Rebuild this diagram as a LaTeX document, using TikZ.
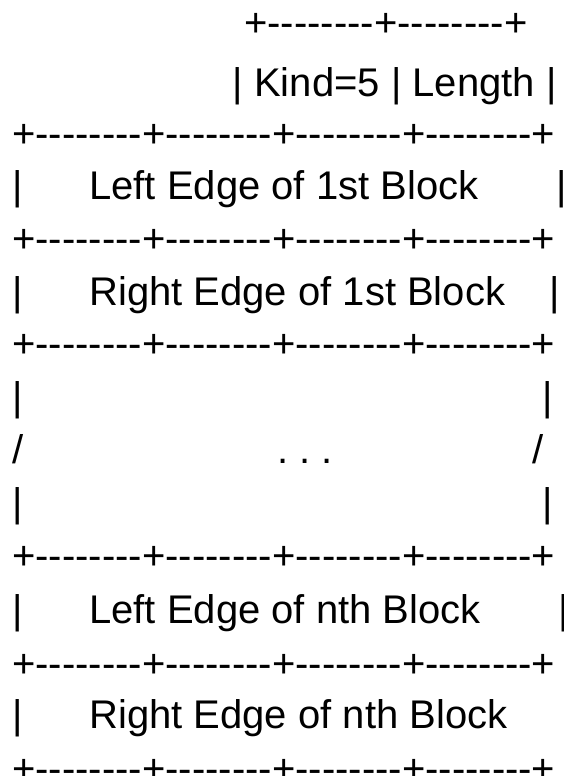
\documentclass[tikz,border=0pt]{standalone}
\usepackage{fontspec}
\newfontfamily\asciifont{Liberation Sans}
\newcommand{\pseg}{+--------}
\begin{document}
\begin{tikzpicture}[x=1pt,y=-1pt,
  txt/.style={anchor=base west,inner sep=0pt,outer sep=0pt,text=black,
    font=\asciifont\fontsize{40}{48}\selectfont}]
\fill[white] (0,0) rectangle (563,776);
\useasboundingbox (0,0) rectangle (563,776);
\clip (0,0) rectangle (563,776);
% line 1-2: header
\node[txt] (l1) at (244.3,36.5) {\pseg\pseg+};
\node[txt] (l2) at (232.8,96) {|~Kind=5~|~Length~|};
% line 3
\node[txt] (l3) at (12.3,147.4) {\pseg\pseg\pseg\pseg+};
\node[txt] (l4) at (12.3,199.5) {|~~~~~~Left Edge of 1st Block~~~~~~~|};
\node[txt] (l5) at (12.3,252.4) {\pseg\pseg\pseg\pseg+};
\node[txt] (l6) at (12.3,305) {|~~~~~~Right Edge of 1st Block~~~~|};
\node[txt] (l7) at (12.3,357.4) {\pseg\pseg\pseg\pseg+};
% gap rows
\node[txt] (l8a) at (12.3,410.5) {|};
\node[txt] (l8b) at (542.8,410.5) {|};
\node[txt] (l9a) at (12.3,463) {/};
\node[txt] (l9b) at (277.5,463) {.~.~.};
\node[txt] (l9c) at (532,463) {/};
\node[txt] (l10a) at (12.3,516.5) {|};
\node[txt] (l10b) at (542.8,516.5) {|};
\node[txt] (l11) at (12.3,569.4) {\pseg\pseg\pseg\pseg+};
\node[txt] (l12) at (12.3,623.3) {|~~~~~~Left Edge of nth Block~~~~~~~|};
\node[txt] (l13) at (12.3,677.4) {\pseg\pseg\pseg\pseg+};
\node[txt] (l14) at (12.3,728.8) {|~~~~~~Right Edge of nth Block};
\node[txt] (l15) at (12.3,782.4) {\pseg\pseg\pseg\pseg+};
\end{tikzpicture}
\end{document}
